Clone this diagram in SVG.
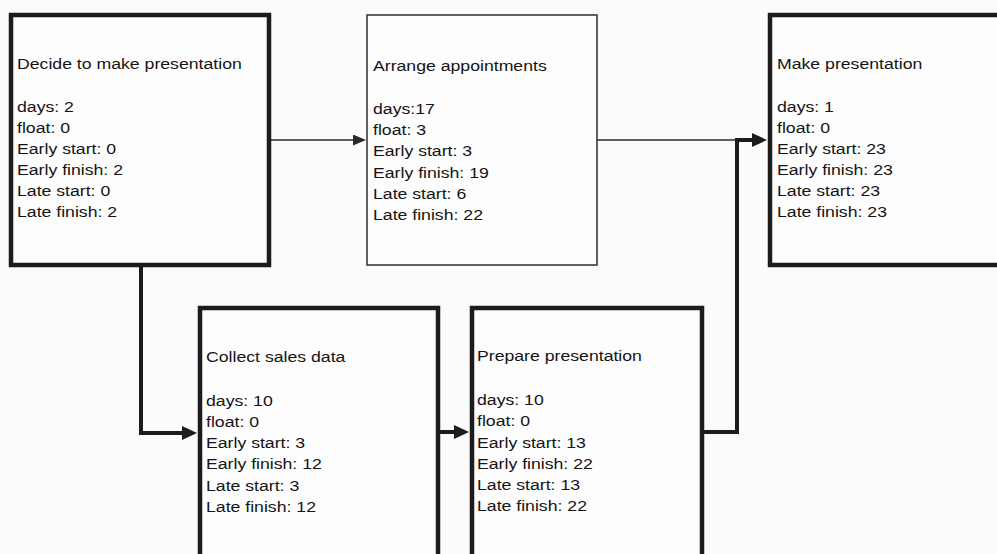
<svg xmlns="http://www.w3.org/2000/svg" width="997" height="554" viewBox="0 0 997 554">
  <style>
    .bg { fill: #fbfbfb; }
    .box { fill: #fdfdfd; stroke: #1c1c1c; stroke-width: 4.5; }
    .box-thin { fill: #fdfdfd; stroke: #3a3a3a; stroke-width: 1.6; }
    .label { font-family: "Liberation Sans", Arial, sans-serif; font-size: 15.5px; fill: #141414; }
    .wire { fill: none; stroke: #1c1c1c; stroke-width: 4; stroke-linejoin: miter; }
    .wire-thin { fill: none; stroke: #2a2a2a; stroke-width: 1.6; }
  </style>
  <defs>
    <marker id="arrow" markerUnits="userSpaceOnUse" markerWidth="16" markerHeight="15" refX="3" refY="7" orient="auto">
      <path d="M0,0 L15,7 L0,14 z" fill="#1c1c1c"/>
    </marker>
    <marker id="arrow-thin" markerUnits="userSpaceOnUse" markerWidth="14" markerHeight="12" refX="3" refY="5.5" orient="auto">
      <path d="M0,0 L13,5.5 L0,11 z" fill="#2a2a2a"/>
    </marker>
  </defs>

  <rect class="bg" x="0" y="0" width="997" height="554"/>

  <!-- connectors -->
  <g id="connectors">
    <path class="wire-thin" d="M271,140 H356" marker-end="url(#arrow-thin)"/>
    <path class="wire-thin" d="M597,140 H737"/>
    <path class="wire" d="M141,267 V433 H185" marker-end="url(#arrow)"/>
    <path class="wire" d="M440,432 H457" marker-end="url(#arrow)"/>
    <path class="wire" d="M704,432 H737 V140 H755" marker-end="url(#arrow)"/>
  </g>

  <!-- activity nodes -->
  <g id="decide">
    <rect class="box" x="11" y="15" width="258" height="250"/>
    <text class="label" transform="translate(17,0) scale(1.14,1)">
      <tspan x="0" y="69">Decide to make presentation</tspan>
      <tspan x="0" y="112">days: 2</tspan>
      <tspan x="0" y="133">float: 0</tspan>
      <tspan x="0" y="154">Early start: 0</tspan>
      <tspan x="0" y="175">Early finish: 2</tspan>
      <tspan x="0" y="196">Late start: 0</tspan>
      <tspan x="0" y="217">Late finish: 2</tspan>
    </text>
  </g>

  <g id="arrange">
    <rect class="box-thin" x="367" y="15" width="230" height="250"/>
    <text class="label" transform="translate(373,0) scale(1.14,1)">
      <tspan x="0" y="71">Arrange appointments</tspan>
      <tspan x="0" y="114">days:17</tspan>
      <tspan x="0" y="135">float: 3</tspan>
      <tspan x="0" y="156.5">Early start: 3</tspan>
      <tspan x="0" y="178">Early finish: 19</tspan>
      <tspan x="0" y="199">Late start: 6</tspan>
      <tspan x="0" y="220">Late finish: 22</tspan>
    </text>
  </g>

  <g id="make">
    <rect class="box" x="770" y="15" width="260" height="250"/>
    <text class="label" transform="translate(777,0) scale(1.14,1)">
      <tspan x="0" y="69">Make presentation</tspan>
      <tspan x="0" y="112">days: 1</tspan>
      <tspan x="0" y="133">float: 0</tspan>
      <tspan x="0" y="154">Early start: 23</tspan>
      <tspan x="0" y="175">Early finish: 23</tspan>
      <tspan x="0" y="196">Late start: 23</tspan>
      <tspan x="0" y="217">Late finish: 23</tspan>
    </text>
  </g>

  <g id="collect">
    <rect class="box" x="200" y="308" width="238" height="270"/>
    <text class="label" transform="translate(206,0) scale(1.14,1)">
      <tspan x="0" y="362">Collect sales data</tspan>
      <tspan x="0" y="405.5">days: 10</tspan>
      <tspan x="0" y="426.8">float: 0</tspan>
      <tspan x="0" y="448">Early start: 3</tspan>
      <tspan x="0" y="469.3">Early finish: 12</tspan>
      <tspan x="0" y="490.6">Late start: 3</tspan>
      <tspan x="0" y="512">Late finish: 12</tspan>
    </text>
  </g>

  <g id="prepare">
    <rect class="box" x="472" y="308" width="230" height="270"/>
    <text class="label" transform="translate(477,0) scale(1.14,1)">
      <tspan x="0" y="361.5">Prepare presentation</tspan>
      <tspan x="0" y="405">days: 10</tspan>
      <tspan x="0" y="426.3">float: 0</tspan>
      <tspan x="0" y="447.6">Early start: 13</tspan>
      <tspan x="0" y="468.9">Early finish: 22</tspan>
      <tspan x="0" y="490.2">Late start: 13</tspan>
      <tspan x="0" y="511.5">Late finish: 22</tspan>
    </text>
  </g>
</svg>
